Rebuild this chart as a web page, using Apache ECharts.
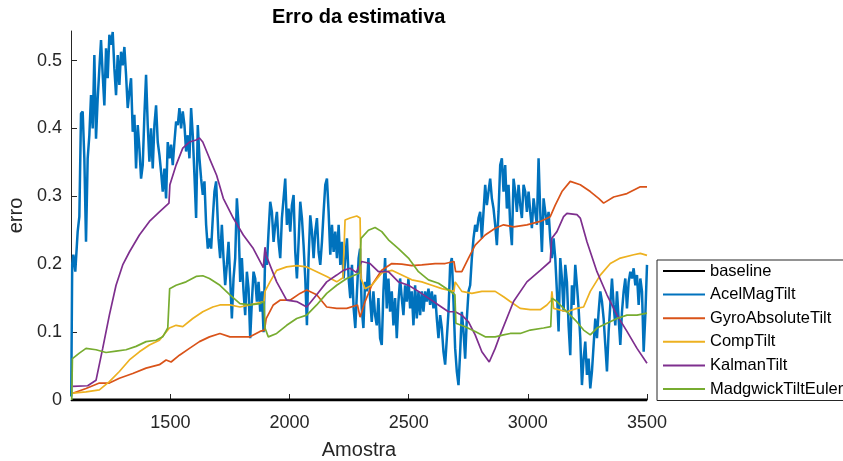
<!DOCTYPE html>
<html><head><meta charset="utf-8">
<script src="https://cdn.jsdelivr.net/npm/echarts@6/dist/echarts.min.js"></script>
<style>html,body{margin:0;padding:0;background:#fff}#c{width:843px;height:461px}</style>
</head><body><div id="c"></div>
<script>
const titleText = 'Erro da estimativa';
const xName = 'Amostra';
const yName = 'erro';
const seriesNames = ['baseline','AcelMagTilt','GyroAbsoluteTilt','CompTilt','KalmanTilt','MadgwickTiltEuler'];
const seriesColors = ['#000000','#0072BD','#D95319','#EDB120','#7E2F8E','#77AC30'];
const xTicks = [1500,2000,2500,3000,3500];
const yTicks = [0,0.1,0.2,0.3,0.4,0.5];
const xRange = [1083,3500];
const yRange = [0,0.5435];

const baseline = [[1083,0],[3500,0]];

const acelMagTilt = [
[1084,0.005],[1088,0.2],[1093,0.214],[1101,0.189],[1111,0.248],[1118,0.27],[1125,0.422],[1132,0.425],[1139,0.356],[1146,0.233],
[1153,0.356],[1160,0.39],[1167,0.449],[1174,0.40],[1181,0.508],[1188,0.385],[1195,0.444],[1202,0.488],[1209,0.53],[1216,0.479],
[1223,0.434],[1230,0.518],[1237,0.474],[1244,0.538],[1251,0.523],[1258,0.542],[1265,0.488],[1272,0.449],[1279,0.508],[1286,0.464],
[1293,0.513],[1300,0.493],[1307,0.520],[1314,0.479],[1321,0.43],[1328,0.454],[1335,0.474],[1342,0.395],[1349,0.42],[1356,0.341],
[1363,0.405],[1370,0.371],[1377,0.326],[1384,0.346],[1391,0.42],[1398,0.479],[1405,0.405],[1412,0.351],[1419,0.40],[1426,0.341],
[1433,0.405],[1440,0.434],[1447,0.38],[1454,0.361],[1461,0.336],[1468,0.307],[1475,0.341],[1482,0.297],[1489,0.38],[1496,0.356],
[1503,0.376],[1510,0.346],[1517,0.38],[1524,0.41],[1531,0.405],[1538,0.43],[1545,0.40],[1552,0.425],[1559,0.405],[1566,0.366],
[1573,0.39],[1580,0.356],[1587,0.43],[1594,0.39],[1601,0.331],[1608,0.268],[1615,0.405],[1622,0.356],[1629,0.326],[1636,0.302],
[1643,0.322],[1650,0.258],[1657,0.223],[1664,0.238],[1671,0.223],[1678,0.268],[1685,0.307],[1692,0.322],
[1702,0.238],[1709,0.209],[1716,0.258],[1723,0.209],[1730,0.169],[1737,0.199],[1744,0.233],[1751,0.179],[1758,0.120],[1765,0.179],
[1772,0.209],[1779,0.297],[1786,0.258],[1793,0.174],[1800,0.209],[1807,0.160],[1814,0.125],[1821,0.189],[1828,0.164],[1835,0.091],
[1842,0.145],[1849,0.189],[1856,0.179],[1863,0.145],[1870,0.174],[1877,0.130],[1884,0.160],[1891,0.100],[1898,0.218],[1905,0.199],
[1912,0.248],[1919,0.292],[1926,0.277],[1933,0.233],[1940,0.258],[1947,0.277],[1954,0.233],[1961,0.209],[1968,0.268],[1975,0.297],
[1982,0.326],[1989,0.258],[1996,0.282],[2003,0.248],[2010,0.287],[2017,0.302],[2024,0.218],[2031,0.179],[2038,0.233],[2045,0.292],
[2052,0.268],[2059,0.228],[2066,0.179],[2073,0.110],[2080,0.209],[2087,0.272],[2094,0.248],[2101,0.209],[2108,0.248],[2115,0.268],
[2122,0.218],[2129,0.199],[2136,0.233],[2143,0.277],[2150,0.317],[2157,0.326],[2164,0.277],[2171,0.214],[2178,0.258],[2185,0.218],
[2192,0.248],[2199,0.209],[2206,0.258],[2213,0.199],[2220,0.233],[2227,0.179],[2234,0.209],[2241,0.238],[2248,0.179],[2255,0.150],
[2262,0.199],[2269,0.135],[2276,0.106],[2283,0.160],[2290,0.209],
[2296,0.223],[2303,0.135],[2310,0.106],[2317,0.174],[2324,0.160],[2331,0.209],[2338,0.150],[2345,0.115],[2352,0.160],[2359,0.125],
[2366,0.110],[2373,0.150],[2380,0.091],[2387,0.081],[2394,0.160],[2401,0.209],[2408,0.135],[2415,0.179],[2422,0.130],[2429,0.160],
[2436,0.110],[2443,0.150],[2450,0.091],[2457,0.145],[2464,0.179],[2471,0.150],[2478,0.125],[2485,0.169],[2492,0.145],[2499,0.179],
[2506,0.135],[2513,0.160],[2520,0.110],[2527,0.169],[2534,0.120],[2541,0.160],[2548,0.125],[2555,0.160],[2562,0.130],[2569,0.160],
[2576,0.145],[2583,0.164],[2590,0.140],[2597,0.160],[2604,0.135],[2611,0.155],[2618,0.120],[2625,0.091],[2632,0.125],[2639,0.106],
[2646,0.071],[2653,0.052],[2660,0.091],[2667,0.130],[2674,0.199],[2681,0.209],[2688,0.145],[2695,0.076],[2702,0.042],[2709,0.022],
[2716,0.071],[2723,0.130],[2730,0.101],[2737,0.061],[2744,0.120],[2751,0.160],[2758,0.169],[2765,0.209],[2772,0.238],[2779,0.258],
[2786,0.248],[2793,0.268],[2800,0.277],[2807,0.238],[2814,0.277],[2821,0.317],[2828,0.287],[2835,0.307],[2842,0.326],[2849,0.297],
[2856,0.282],[2863,0.258],[2870,0.228],[2877,0.277],
[2884,0.346],[2891,0.356],[2898,0.307],[2905,0.346],[2912,0.282],[2919,0.317],[2926,0.258],[2933,0.228],[2940,0.326],[2947,0.307],
[2954,0.277],[2961,0.317],[2968,0.287],[2975,0.268],[2982,0.317],[2989,0.307],[2996,0.277],[3003,0.307],[3010,0.277],[3017,0.253],
[3024,0.297],[3031,0.277],[3038,0.258],[3045,0.356],[3052,0.277],[3059,0.218],[3066,0.297],[3073,0.277],[3080,0.258],[3087,0.277],
[3094,0.238],[3101,0.209],[3108,0.238],[3115,0.209],[3122,0.160],[3129,0.101],[3136,0.209],[3143,0.179],[3150,0.130],[3157,0.199],
[3164,0.174],[3171,0.110],[3178,0.066],[3185,0.169],[3192,0.140],[3199,0.199],[3206,0.169],[3213,0.135],[3220,0.091],[3227,0.022],
[3234,0.061],[3241,0.086],[3248,0.037],[3255,0.061],[3262,0.017],[3269,0.042],[3276,0.081],[3283,0.120],[3290,0.091],[3297,0.130],
[3304,0.160],[3311,0.145],[3318,0.120],[3325,0.081],[3332,0.042],[3339,0.101],[3346,0.140],[3353,0.179],[3360,0.140],[3367,0.110],
[3374,0.160],[3381,0.120],[3388,0.081],[3395,0.130],[3402,0.160],[3409,0.179],[3416,0.135],[3423,0.174],[3430,0.189],[3437,0.179],
[3444,0.194],[3451,0.169],[3458,0.184],[3465,0.140],[3472,0.179],[3479,0.160],[3486,0.071],[3493,0.125],[3500,0.199]
];

const gyroAbsoluteTilt = [
[1090,0.01],[1146,0.017],[1202,0.025],[1244,0.025],[1286,0.032],[1342,0.039],[1398,0.047],[1454,0.052],[1482,0.059],[1503,0.056],
[1538,0.066],[1580,0.076],[1622,0.086],[1664,0.093],[1708,0.098],[1750,0.093],[1792,0.093],[1834,0.093],[1876,0.101],[1895,0.103],
[1902,0.12],[1932,0.14],[1960,0.147],[2002,0.147],[2044,0.157],[2072,0.162],[2114,0.155],[2156,0.137],[2198,0.135],[2240,0.135],
[2285,0.14],[2296,0.122],[2317,0.145],[2345,0.169],[2387,0.191],[2429,0.201],[2471,0.2],[2513,0.198],[2555,0.199],[2611,0.201],
[2653,0.201],[2690,0.204],[2697,0.189],[2723,0.189],[2751,0.209],[2779,0.228],[2821,0.243],[2863,0.253],[2898,0.258],[2940,0.255],
[2996,0.258],[3052,0.263],[3094,0.27],[3115,0.287],[3143,0.307],[3178,0.322],[3220,0.317],[3262,0.307],[3297,0.297],[3318,0.29],
[3360,0.299],[3416,0.304],[3472,0.314],[3500,0.314]
];

const compTilt = [
[1090,0.01],[1146,0.012],[1202,0.015],[1244,0.027],[1286,0.042],[1328,0.059],[1370,0.071],[1412,0.081],[1454,0.088],[1496,0.106],
[1524,0.11],[1552,0.108],[1594,0.12],[1636,0.13],[1678,0.137],[1708,0.14],[1750,0.14],[1792,0.137],[1834,0.14],[1893,0.145],
[1897,0.16],[1918,0.174],[1946,0.191],[1988,0.196],[2030,0.198],[2072,0.196],[2114,0.189],[2156,0.182],[2198,0.174],[2224,0.18],
[2233,0.265],[2254,0.268],[2282,0.271],[2296,0.268],[2300,0.179],[2317,0.164],[2345,0.169],[2387,0.187],[2429,0.191],[2471,0.184],
[2513,0.177],[2555,0.174],[2597,0.169],[2639,0.164],[2690,0.16],[2695,0.174],[2723,0.16],[2765,0.157],[2807,0.16],[2863,0.16],
[2898,0.152],[2926,0.145],[2968,0.135],[3010,0.133],[3052,0.133],[3080,0.14],[3098,0.147],[3101,0.16],[3108,0.135],[3164,0.13],
[3206,0.135],[3234,0.137],[3262,0.16],[3304,0.184],[3346,0.201],[3388,0.209],[3444,0.214],[3472,0.216],[3500,0.213]
];

const kalmanTilt = [
[1090,0.02],[1153,0.021],[1188,0.029],[1216,0.076],[1244,0.125],[1272,0.169],[1300,0.199],[1328,0.218],[1370,0.243],[1412,0.263],
[1454,0.277],[1494,0.29],[1498,0.317],[1524,0.346],[1552,0.371],[1580,0.38],[1608,0.383],[1622,0.386],[1636,0.38],[1664,0.356],
[1694,0.331],[1722,0.297],[1764,0.268],[1806,0.243],[1848,0.223],[1890,0.195],[1897,0.225],[1903,0.212],[1946,0.174],[1988,0.147],
[2030,0.145],[2072,0.137],[2114,0.155],[2156,0.174],[2198,0.184],[2226,0.191],[2254,0.194],[2280,0.188],[2303,0.204],[2338,0.201],
[2373,0.189],[2415,0.189],[2457,0.174],[2499,0.169],[2541,0.16],[2583,0.15],[2625,0.14],[2667,0.13],[2695,0.13],[2723,0.125],
[2751,0.115],[2779,0.096],[2807,0.071],[2838,0.056],[2863,0.076],[2884,0.096],[2940,0.145],[2996,0.174],[3052,0.191],[3094,0.204],
[3100,0.238],[3122,0.248],[3150,0.27],[3164,0.275],[3206,0.273],[3220,0.268],[3248,0.233],[3290,0.189],[3332,0.155],[3374,0.125],
[3416,0.101],[3458,0.076],[3500,0.054]
];

const madgwickTiltEuler = [
[1086,0.0],[1089,0.061],[1118,0.069],[1146,0.076],[1188,0.074],[1230,0.07],[1272,0.072],[1314,0.074],[1356,0.079],[1398,0.086],
[1440,0.088],[1468,0.093],[1489,0.106],[1497,0.164],[1524,0.169],[1566,0.174],[1608,0.182],[1636,0.183],[1664,0.179],[1708,0.169],
[1750,0.155],[1792,0.142],[1834,0.14],[1876,0.142],[1893,0.145],[1897,0.106],[1911,0.093],[1946,0.098],[1988,0.11],[2030,0.12],
[2072,0.125],[2114,0.14],[2156,0.157],[2198,0.169],[2240,0.179],[2294,0.187],[2300,0.238],[2331,0.25],[2359,0.254],[2387,0.248],
[2415,0.236],[2457,0.223],[2499,0.209],[2541,0.189],[2583,0.177],[2625,0.172],[2667,0.162],[2694,0.155],[2698,0.113],[2737,0.108],
[2779,0.101],[2821,0.093],[2863,0.093],[2898,0.096],[2926,0.098],[2968,0.098],[3010,0.103],[3066,0.106],[3096,0.108],[3101,0.15],
[3122,0.145],[3164,0.13],[3206,0.115],[3234,0.103],[3262,0.096],[3290,0.106],[3332,0.113],[3374,0.12],[3416,0.125],[3458,0.125],
[3500,0.128]
];

const allData = [baseline, acelMagTilt, gyroAbsoluteTilt, compTilt, kalmanTilt, madgwickTiltEuler];
const widths = [3, 2.5, 1.7, 1.7, 1.7, 1.7];
const FONT = '"Liberation Sans", Arial, Helvetica, sans-serif';
const axisColor = '#262626';

const chart = echarts.init(document.getElementById('c'), null, {renderer: 'canvas'});
chart.setOption({
  animation: false,
  backgroundColor: '#ffffff',
  title: {
    text: titleText, left: 267, top: 2,
    textStyle: {fontFamily: FONT, fontSize: 20, fontWeight: 'bold', color: '#000'}
  },
  legend: {
    orient: 'vertical', left: 657, top: 260,
    padding: [2.5, 12, 3, 5],
    itemWidth: 42, itemHeight: 14, itemGap: 6.6,
    borderColor: axisColor, borderWidth: 1, backgroundColor: '#fff',
    itemStyle: {opacity: 0},
    textStyle: {fontFamily: FONT, fontSize: 16.5, color: '#000'},
    data: seriesNames
  },
  grid: {left: 71, right: 196, top: 31, bottom: 61, containLabel: false, outerBoundsMode: 'none'},
  xAxis: {
    type: 'value', min: xRange[0], max: xRange[1],
    name: xName, nameLocation: 'middle', nameGap: 40,
    nameTextStyle: {fontFamily: FONT, fontSize: 20, color: axisColor},
    axisLine: {show: true, onZero: false, lineStyle: {color: axisColor, width: 1}},
    axisTick: {show: true, inside: true, length: 6, lineStyle: {color: axisColor}, customValues: xTicks},
    axisLabel: {fontFamily: FONT, fontSize: 18, color: axisColor, margin: 14, customValues: xTicks,
      formatter: v => String(v)},
    splitLine: {show: false}
  },
  yAxis: {
    type: 'value', min: yRange[0], max: yRange[1],
    name: yName, nameLocation: 'middle', nameGap: 44,
    nameTextStyle: {fontFamily: FONT, fontSize: 20, color: axisColor},
    axisLine: {show: true, lineStyle: {color: axisColor, width: 1}},
    axisTick: {show: true, inside: true, length: 6, lineStyle: {color: axisColor}, customValues: yTicks},
    axisLabel: {fontFamily: FONT, fontSize: 18, color: axisColor, margin: 9, customValues: yTicks,
      formatter: v => String(v)},
    splitLine: {show: false}
  },
  series: seriesNames.map((n, i) => ({
    name: n, type: 'line', data: allData[i],
    showSymbol: false, symbol: 'none', clip: true,
    color: seriesColors[i],
    lineStyle: {color: seriesColors[i], width: widths[i]},
    z: 2 + i
  }))
});
</script></body></html>
